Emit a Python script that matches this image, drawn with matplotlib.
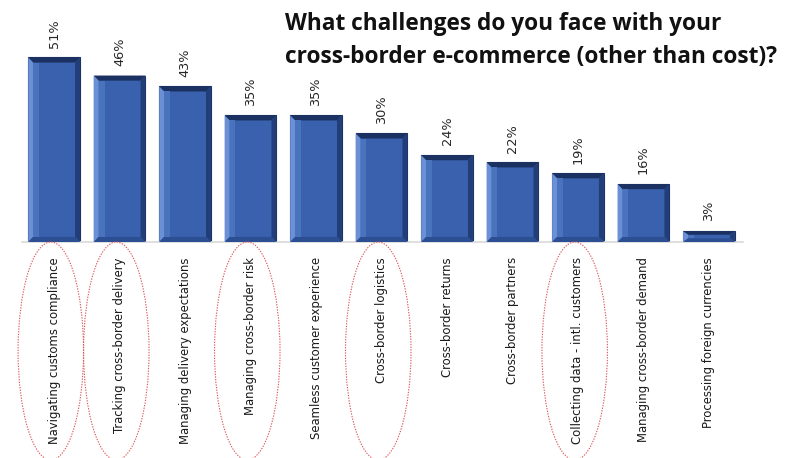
import matplotlib
matplotlib.use("Agg")
import matplotlib.pyplot as plt
from matplotlib.patches import Ellipse
import matplotlib.transforms as mtransforms
from matplotlib import font_manager

categories = [
    "Navigating customs compliance",
    "Tracking cross-border delivery",
    "Managing delivery expectations",
    "Managing cross-border risk",
    "Seamless customer experience",
    "Cross-border logistics",
    "Cross-border returns",
    "Cross-border partners",
    "Collecting data - intl. customers",
    "Managing cross-border demand",
    "Processing foreign currencies",
]
values = [51, 46, 43, 35, 35, 30, 24, 22, 19, 16, 3]
value_labels = ["51%", "46%", "43%", "35%", "35%", "30%", "24%", "22%", "19%", "16%", "3%"]
highlighted = [
    "Navigating customs compliance",
    "Tracking cross-border delivery",
    "Managing cross-border risk",
    "Cross-border logistics",
    "Collecting data - intl. customers",
]
title = "What challenges do you face with your\ncross-border e-commerce (other than cost)?"

cond = [f for f in font_manager.fontManager.ttflist
        if "Condensed" in f.fname or "Narrow" in f.fname or f.stretch in ("condensed", "semi-condensed")]
if cond:
    cond_name = cond[0].name
    cond_size = 8.4
    val_size = 9.3
else:
    cond_name = "DejaVu Sans"
    cond_size = 7.2
    val_size = 8.0
plt.rcParams['font.family'] = ['DejaVu Sans']

W, H = 795, 458
fig = plt.figure(figsize=(W / 100, H / 100), dpi=100)
fig.patch.set_facecolor("white")

left_px, right_px = 22, 743
base_px, top_px = 242, 43
ax = fig.add_axes([left_px / W, 1 - base_px / H, (right_px - left_px) / W, (base_px - top_px) / H])
ax.set_xlim(-0.49, 10.52)
ax.set_ylim(0, 55)

x = list(range(len(values)))
bw = 0.79
face = "#3A61AD"
ax.bar(x, values, width=bw, color=face, edgecolor="#1C3263", linewidth=0.8, zorder=2)

bx = 0.075
by = 1.4
for xi, v in zip(x, values):
    l, r = xi - bw / 2, xi + bw / 2
    t = v
    byy = min(by, v / 3)
    ax.fill([l, r, r - bx, l + bx], [t, t, t - byy, t - byy], color="#1A3161", zorder=3, lw=0)
    ax.fill([l, l + bx, l + bx, l], [t, t - byy, byy, 0], color="#6B90D6", zorder=3, lw=0)
    ax.fill([r, r - bx, r - bx, r], [t, t - byy, byy, 0], color="#223E78", zorder=3, lw=0)
    ax.fill([l, r, r - bx, l + bx], [0, 0, byy, byy], color="#2C4E92", zorder=3, lw=0)
    ax.fill([l + bx, l + 2.2 * bx, l + 2.2 * bx, l + bx], [t - byy, t - byy, byy, byy],
            color="#4A73BE", zorder=3, lw=0)

for xi, v, lab in zip(x, values, value_labels):
    ax.annotate(lab, (xi, v), xytext=(0, 7), textcoords="offset points",
                rotation=90, ha="center", va="bottom", fontsize=val_size,
                family=[cond_name, "DejaVu Sans"], color="#262626")

ax.set_xticks(x)
ax.set_xticklabels(categories, rotation=90, fontsize=cond_size, color="#1A1A1A",
                   va="top", ha="center", family=[cond_name, "DejaVu Sans"])
ax.tick_params(axis="x", length=0, pad=11)
ax.set_yticks([])
for s in ["top", "right", "left"]:
    ax.spines[s].set_visible(False)
ax.spines["bottom"].set_color("#D9D9D9")
ax.spines["bottom"].set_linewidth(1.2)

trans = mtransforms.blended_transform_factory(ax.transData, fig.transFigure)
for xi, cat in zip(x, categories):
    if cat in highlighted:
        e = Ellipse((xi - 0.05, 1 - 351 / H), width=1.0, height=218 / H, transform=trans,
                    fill=False, edgecolor="#DD5A5A", linestyle=(0, (1.2, 1.2)), linewidth=0.8,
                    clip_on=False, zorder=1)
        fig.add_artist(e)

fig.text(285 / W, 1 - 12 / H, title, ha="left", va="top", fontsize=16.3, fontweight="bold",
         family=["Open Sans", "DejaVu Sans"], color="#111111", linespacing=1.5)

fig.savefig("out.png", dpi=100, facecolor="white")
